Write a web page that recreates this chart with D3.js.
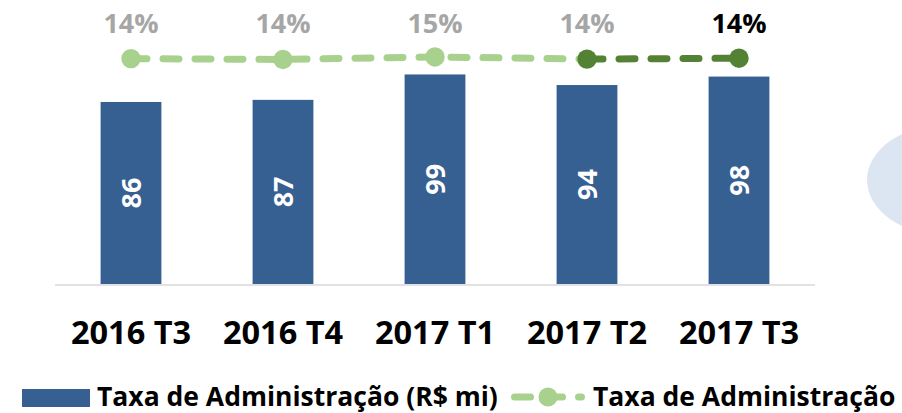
<!DOCTYPE html>
<html lang="pt">
<head>
  <meta charset="UTF-8">
  <title>Taxa de Administração</title>
  <script src="https://cdn.jsdelivr.net/npm/d3@7"></script>
  <style>
    body { margin: 0; background: #fff; }
    text { font-family: "Open Sans", Lato, sans-serif; font-weight: bold; }
  </style>
</head>
<body>
  <div id="grafica"></div>

  <script>
    // dados
    trimestres = ['2016 T3', '2016 T4', '2017 T1', '2017 T2', '2017 T3']
    taxaAdm = [86, 87, 99, 94, 98]            // R$ mi
    taxaPct = [0.142, 0.140, 0.146, 0.141, 0.143]
    rotulosPct = ['14%', '14%', '15%', '14%', '14%']
    legendaBarras = 'Taxa de Administração (R$ mi)'
    legendaLinha = 'Taxa de Administração'

    ancho = 902
    alto = 413

    azul = '#376092'
    verdeClaro = '#A9D18E'
    verdeEscuro = '#548235'

    svg = d3.select('#grafica')
      .append('svg')
      .attr('width', ancho)
      .attr('height', alto)

    // enfeite azul claro na borda direita
    svg.append('ellipse')
      .attr('cx', 945).attr('cy', 180)
      .attr('rx', 78).attr('ry', 55)
      .attr('fill', '#DCE6F2')

    x = d3.scaleBand()
      .domain(trimestres)
      .range([55, 815])
      .paddingInner(0.6)
      .paddingOuter(0.3)

    y = d3.scaleLinear()
      .domain([0, 120])
      .range([284, 30])

    y2 = d3.scaleLinear()
      .domain([0, 0.2])
      .range([119, 34])

    // linha de base
    svg.append('line')
      .attr('x1', 55).attr('x2', 815)
      .attr('y1', 285).attr('y2', 285)
      .attr('stroke', '#D9D9D9')
      .attr('stroke-width', 1.5)

    // barras
    svg.selectAll('rect.barra')
      .data(taxaAdm)
      .enter()
      .append('rect')
      .attr('class', 'barra')
      .attr('x', (d, i) => x(trimestres[i]))
      .attr('y', d => y(d))
      .attr('width', x.bandwidth())
      .attr('height', d => y(0) - y(d))
      .attr('fill', azul)

    svg.selectAll('text.valor')
      .data(taxaAdm)
      .enter()
      .append('text')
      .attr('class', 'valor')
      .attr('transform', (d, i) => {
        cx = x(trimestres[i]) + x.bandwidth() / 2
        cy = (y(d) + y(0)) / 2
        return 'translate(' + cx + ',' + cy + ') rotate(-90)'
      })
      .attr('text-anchor', 'middle')
      .attr('dy', '0.36em')
      .attr('fill', '#fff')
      .style('font-size', '27px')
      .text(d => d)

    // linha percentual
    centro = (d, i) => x(trimestres[i]) + x.bandwidth() / 2
    linha = d3.line()
      .x(d => centro(d, d.i))
      .y(d => y2(d.v))

    pontos = taxaPct.map((v, i) => ({ v: v, i: i }))

    svg.append('path')
      .datum(pontos.slice(0, 4))
      .attr('d', linha)
      .attr('fill', 'none')
      .attr('stroke', verdeClaro)
      .attr('stroke-width', 7)
      .attr('stroke-linecap', 'round')
      .attr('stroke-dasharray', '16,16')

    svg.append('path')
      .datum(pontos.slice(3))
      .attr('d', linha)
      .attr('fill', 'none')
      .attr('stroke', verdeEscuro)
      .attr('stroke-width', 7)
      .attr('stroke-linecap', 'round')
      .attr('stroke-dasharray', '16,16')

    svg.selectAll('circle.ponto')
      .data(pontos)
      .enter()
      .append('circle')
      .attr('class', 'ponto')
      .attr('cx', d => centro(d, d.i))
      .attr('cy', d => y2(d.v))
      .attr('r', 9.7)
      .attr('fill', d => d.i >= 3 ? verdeEscuro : verdeClaro)

    svg.selectAll('text.pct')
      .data(pontos)
      .enter()
      .append('text')
      .attr('class', 'pct')
      .attr('x', d => centro(d, d.i))
      .attr('y', 32.7)
      .attr('text-anchor', 'middle')
      .attr('fill', d => d.i == 4 ? '#000' : '#A6A6A6')
      .style('font-size', '27px')
      .text(d => rotulosPct[d.i])

    // eixo x
    eixoX = svg.append('g')
      .attr('transform', 'translate(0,344.3)')
      .call(d3.axisBottom(x).tickSize(0).tickPadding(0))
    eixoX.select('.domain').remove()
    eixoX.selectAll('text')
      .attr('dy', 0)
      .attr('fill', '#000')
      .style('font-size', '32.5px')
      .style('font-family', '"Open Sans", sans-serif')
      .style('font-weight', 'bold')

    // legenda
    svg.append('rect')
      .attr('x', 22).attr('y', 389)
      .attr('width', 68).attr('height', 18)
      .attr('fill', azul)

    svg.append('text')
      .attr('x', 97).attr('y', 405.5)
      .style('font-size', '26.5px')
      .text(legendaBarras)

    svg.append('line')
      .attr('x1', 514.5).attr('x2', 581.5)
      .attr('y1', 397).attr('y2', 397)
      .attr('stroke', verdeClaro)
      .attr('stroke-width', 7)
      .attr('stroke-linecap', 'round')
      .attr('stroke-dasharray', '16,16')

    svg.append('circle')
      .attr('cx', 548).attr('cy', 397)
      .attr('r', 9.5)
      .attr('fill', verdeClaro)

    svg.append('text')
      .attr('x', 593).attr('y', 405.5)
      .style('font-size', '26.5px')
      .text(legendaLinha)
  </script>
</body>
</html>
